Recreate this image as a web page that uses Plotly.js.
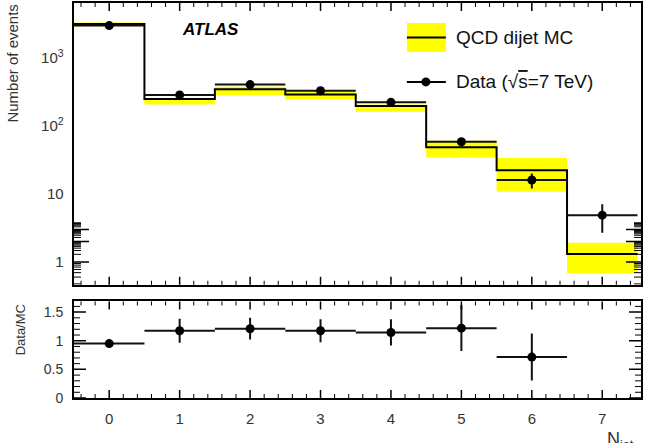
<!DOCTYPE html>
<html><head><meta charset="utf-8">
<script src="https://cdn.plot.ly/plotly-3.0.1.min.js"></script>
<style>html,body{margin:0;padding:0;background:#fff}#plot{width:651px;height:443px}</style>
</head><body><div id="plot"></div>
<script>
// ---- data ----
const nJet = [0, 1, 2, 3, 4, 5, 6, 7];
const dataEvents = [3000, 286, 407, 330, 223, 58.8, 16.1, 4.9];
const dataErr = [55, 17, 20, 18, 15, 7.7, 4.0, 2.2];
const mcEvents = [3160, 249, 346, 292, 197, 48.7, 22.3, 1.31];
const mcBandHigh = [3320, 258, 378, 316, 207, 60.8, 33.8, 1.92];
const mcBandLow = [2950, 207, 286, 245, 162, 34.7, 10.8, 0.68];
const ratioBins = [0, 1, 2, 3, 4, 5, 6];
const ratioVals = [0.95, 1.175, 1.21, 1.175, 1.145, 1.22, 0.715];
const ratioErr = [0.02, 0.21, 0.19, 0.20, 0.23, 0.40, 0.41];
const xTickVals = [0, 1, 2, 3, 4, 5, 6, 7];
const logTickVals = [1, 10, 100, 1000];
const ratioTickVals = [0, 0.5, 1, 1.5];

// ---- axis ranges / geometry ----
const W = 651, H = 443;
const L = 73.5, R = 641.5, T = 3, B = 398.3;
const TOP_BOTTOM = 285, BOT_TOP = 301.7;
const px = v => (v - L) / (R - L);
const py = v => (B - v) / (B - T);
const FONT = 'Liberation Sans, Arial, Helvetica, sans-serif';
const TXT = '#333';
const X_RANGE = [-0.5, 7.55];
const Y_RANGE = [-0.334, 3.809];
const R_RANGE = [0, 1.686];

// minor tick positions (axis furniture)
const xMinor = [];
for (let i = -2; i <= 37; i++) { const v = +(i * 0.2).toFixed(2); if (Math.abs(v - Math.round(v)) > 1e-6) xMinor.push(v); }
const logMinor = [];
[0.1, 1, 10, 100, 1000].forEach(d => { for (let k = 2; k <= 9; k++) { const v = k * d; const lv = Math.log10(v); if (lv > Y_RANGE[0] && lv < Y_RANGE[1]) logMinor.push(v); } });
const ratioMinor = [];
for (let i = 1; i <= 16; i++) { if (i % 5 !== 0) ratioMinor.push(+(i * 0.1).toFixed(2)); }

// ---- derived structures ----
const halfW = 0.5;
const edges = nJet.map(n => n - halfW).concat([nJet[nJet.length - 1] + halfW]);
const stepY = mcEvents.concat([mcEvents[mcEvents.length - 1]]);
const bandX = [], bandY = [];
nJet.forEach((n, i) => { bandX.push(edges[i], edges[i + 1]); bandY.push(mcBandHigh[i], mcBandHigh[i]); });
for (let i = nJet.length - 1; i >= 0; i--) { bandX.push(edges[i + 1], edges[i]); bandY.push(mcBandLow[i], mcBandLow[i]); }

const traces = [
  { x: bandX, y: bandY, type: 'scatter', mode: 'lines', fill: 'toself', fillcolor: '#ffff00',
    line: { width: 0 }, xaxis: 'x', yaxis: 'y', hoverinfo: 'skip' },
  { x: edges, y: stepY, type: 'scatter', mode: 'lines', line: { shape: 'hv', color: '#000', width: 2 },
    xaxis: 'x', yaxis: 'y' },
  { x: nJet, y: dataEvents, type: 'scatter', mode: 'markers',
    marker: { color: '#000', size: 9 },
    error_x: { type: 'constant', value: halfW, color: '#111', thickness: 2, width: 0 },
    error_y: { type: 'data', array: dataErr, color: '#111', thickness: 2, width: 0 },
    xaxis: 'x', yaxis: 'y' },
  { x: ratioBins, y: ratioVals, type: 'scatter', mode: 'markers',
    marker: { color: '#000', size: 9 },
    error_x: { type: 'constant', value: halfW, color: '#111', thickness: 2, width: 0 },
    error_y: { type: 'data', array: ratioErr, color: '#111', thickness: 2, width: 0 },
    xaxis: 'x2', yaxis: 'y2' }
];

// ---- tick marks drawn as shapes in axis coordinates (inside, mirrored) ----
const topH = TOP_BOTTOM - T, botH = B - BOT_TOP, plotW = R - L;
const tickShapes = [];
function xTicks(vals, len, width, yref, h) {
  const f = len / h;
  vals.forEach(v => {
    tickShapes.push({ type: 'line', xref: 'x', yref: yref, x0: v, x1: v, y0: 0, y1: f, line: { color: '#000', width: width } });
    tickShapes.push({ type: 'line', xref: 'x', yref: yref, x0: v, x1: v, y0: 1, y1: 1 - f, line: { color: '#000', width: width } });
  });
}
function yTicks(vals, len, width, xref, yref, isLog) {
  const f = len / plotW;
  vals.forEach(v => {
    const yv = isLog ? Math.log10(v) : v;
    tickShapes.push({ type: 'line', xref: xref, yref: yref, x0: 0, x1: f, y0: yv, y1: yv, line: { color: '#000', width: width } });
    tickShapes.push({ type: 'line', xref: xref, yref: yref, x0: 1, x1: 1 - f, y0: yv, y1: yv, line: { color: '#000', width: width } });
  });
}
xTicks(xTickVals, 8, 1.5, 'y domain', topH);
xTicks(xMinor, 4, 1, 'y domain', topH);
xTicks(xTickVals, 8, 1.5, 'y2 domain', botH);
xTicks(xMinor, 4, 1, 'y2 domain', botH);
yTicks(logTickVals, 15, 1.5, 'x domain', 'y', true);
yTicks(logMinor, 7, 1, 'x domain', 'y', true);
yTicks(ratioTickVals, 12, 1.5, 'x2 domain', 'y2', false);
yTicks(ratioMinor, 6, 1, 'x2 domain', 'y2', false);

const topDom = [py(TOP_BOTTOM), 1];
const botDom = [0, py(BOT_TOP)];
const base = {
  ticks: '', showline: true, linewidth: 2, linecolor: '#000', mirror: true,
  showgrid: false, zeroline: false
};
const xBase = Object.assign({}, base, {
  domain: [0, 1], range: X_RANGE, tickmode: 'array', tickvals: xTickVals,
  tickfont: { family: FONT, size: 15, color: TXT }, ticklabelstandoff: 6
});

const legendShapes = [
  { type: 'rect', xref: 'paper', yref: 'paper', x0: px(407), x1: px(446), y0: py(52), y1: py(23),
    fillcolor: '#ffff00', line: { width: 0 } },
  { type: 'line', xref: 'paper', yref: 'paper', x0: px(407), x1: px(446), y0: py(37.5), y1: py(37.5),
    line: { color: '#000', width: 2 } },
  { type: 'line', xref: 'paper', yref: 'paper', x0: px(407), x1: px(446), y0: py(82), y1: py(82),
    line: { color: '#000', width: 2 } },
  { type: 'circle', xref: 'paper', yref: 'paper', x0: px(421.5), x1: px(430.5), y0: py(86.5), y1: py(77.5),
    fillcolor: '#000', line: { color: '#000', width: 0 } }
];

const layout = {
  width: W, height: H, margin: { l: L, r: W - R, t: T, b: H - B, pad: 0 },
  paper_bgcolor: '#fff', plot_bgcolor: '#fff', showlegend: false,
  font: { family: FONT, color: TXT },
  xaxis: Object.assign({}, xBase, { anchor: 'y', showticklabels: false }),
  yaxis: Object.assign({}, base, { domain: topDom, type: 'log', range: Y_RANGE, anchor: 'x',
    dtick: 1, exponentformat: 'power', tickfont: { family: FONT, size: 12, color: TXT }, ticklabelstandoff: 6 }),
  xaxis2: Object.assign({}, xBase, { anchor: 'y2', showticklabels: true }),
  yaxis2: Object.assign({}, base, { domain: botDom, range: R_RANGE, anchor: 'x2',
    tickmode: 'array', tickvals: ratioTickVals, tickfont: { family: FONT, size: 14, color: TXT }, ticklabelstandoff: 6 }),
  shapes: tickShapes.concat(legendShapes),
  annotations: [
    { xref: 'paper', yref: 'paper', x: px(180), y: py(30), xanchor: 'left', yanchor: 'middle', showarrow: false,
      text: '<b><i>ATLAS</i></b>', font: { family: FONT, size: 17, color: '#000' } },
    { xref: 'paper', yref: 'paper', x: px(454), y: py(37.5), xanchor: 'left', yanchor: 'middle', showarrow: false,
      text: 'QCD dijet MC', font: { family: FONT, size: 19, color: '#111' } },
    { xref: 'paper', yref: 'paper', x: px(454), y: py(82), xanchor: 'left', yanchor: 'middle', showarrow: false,
      text: 'Data (√<span style="text-decoration:overline">s</span>=7 TeV)', font: { family: FONT, size: 19, color: '#111' } },
    { xref: 'paper', yref: 'paper', x: px(12), y: py(64), xanchor: 'center', yanchor: 'middle', showarrow: false,
      textangle: -90, text: 'Number of events', font: { family: FONT, size: 15, color: TXT } },
    { xref: 'paper', yref: 'paper', x: px(20), y: py(330), xanchor: 'center', yanchor: 'middle', showarrow: false,
      textangle: -90, text: 'Data/MC', font: { family: FONT, size: 13, color: TXT } },
    { xref: 'paper', yref: 'paper', x: px(605), y: py(427), xanchor: 'left', yanchor: 'top', showarrow: false,
      text: 'N<sub>jet</sub>', font: { family: FONT, size: 18, color: TXT } }
  ]
};

Plotly.newPlot('plot', traces, layout, { displayModeBar: false });
</script>
</body></html>
